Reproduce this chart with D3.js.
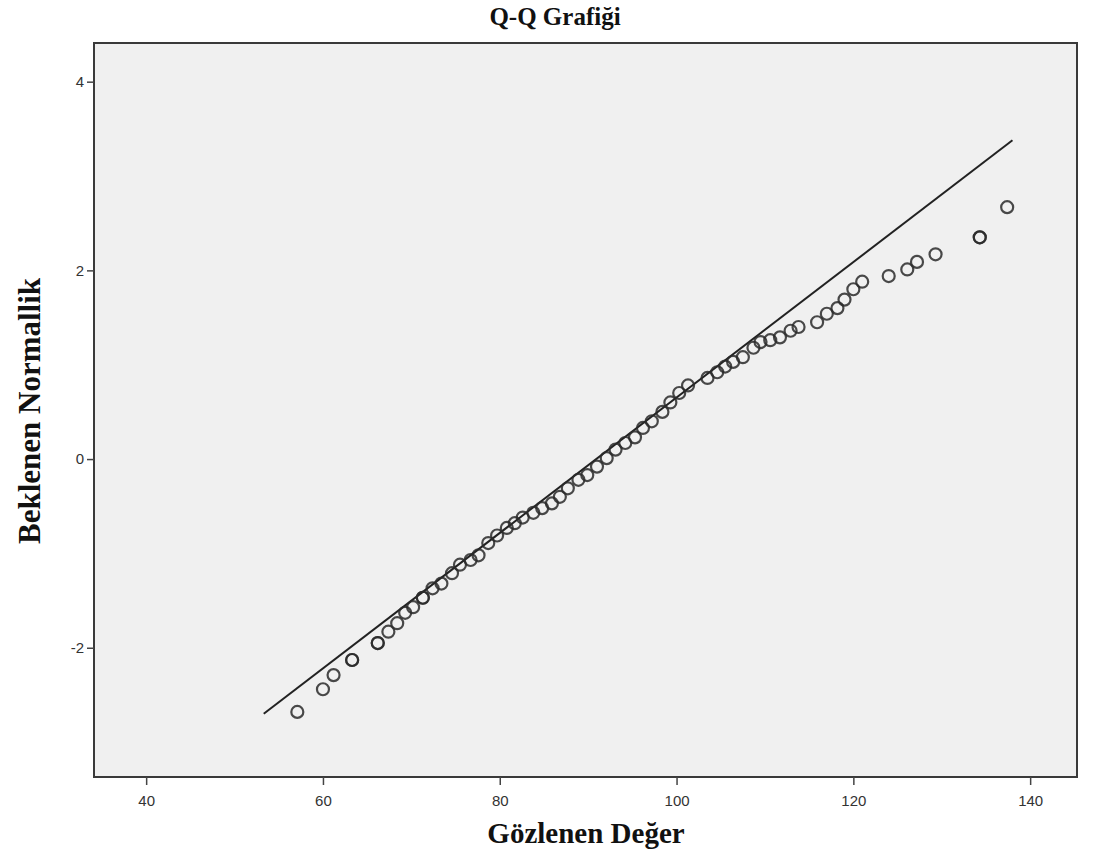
<!DOCTYPE html>
<html>
<head>
<meta charset="utf-8">
<script src="https://cdn.jsdelivr.net/npm/d3@7"></script>
<style>
  body { margin: 0; background: #fff; }
</style>
</head>
<body>
<div id="chart"></div>
<script>
// Q-Q Grafiği - observed values vs expected normal
const observed = [57.1, 60.0, 61.2, 63.3, 63.3, 66.2, 66.2, 67.4, 68.4, 69.3, 70.2, 71.3, 71.3, 72.4, 73.4,
    74.6, 75.5, 76.7, 77.6, 78.7, 79.7, 80.8, 81.7, 82.6, 83.8, 84.8, 85.9, 86.8, 87.7, 88.9, 89.9,
    91.0, 92.1, 93.1, 94.2, 95.3, 96.2, 97.2, 98.4, 99.3, 100.3, 101.3, 103.5, 104.6, 105.5, 106.4,
    107.5, 108.7, 109.5, 110.6, 111.7, 112.9, 113.8, 115.9, 117.0, 118.2, 119.0, 120.0, 121.0,
    124.0, 126.1, 127.2, 129.3, 134.3, 134.3, 137.4];
const expected = [-2.68, -2.44, -2.29, -2.13, -2.13, -1.95, -1.95, -1.83, -1.74, -1.63, -1.57, -1.47, -1.47, -1.37, -1.32,
    -1.21, -1.12, -1.07, -1.02, -0.89, -0.81, -0.73, -0.68, -0.62, -0.57, -0.52, -0.47, -0.40, -0.31, -0.22, -0.17,
    -0.08, 0.01, 0.10, 0.17, 0.23, 0.33, 0.40, 0.50, 0.60, 0.70, 0.78, 0.86, 0.92, 0.98, 1.03,
    1.08, 1.18, 1.24, 1.26, 1.29, 1.36, 1.40, 1.45, 1.54, 1.60, 1.69, 1.80, 1.88,
    1.94, 2.01, 2.09, 2.17, 2.35, 2.35, 2.67];

// reference line endpoints
const lineX = [53.3, 138.0];
const lineY = [-2.70, 3.38];

const xTicks = [40, 60, 80, 100, 120, 140];
const yTicks = [-2, 0, 2, 4];

const width = 1108;
const height = 857;
const plot = { left: 94, top: 43, right: 1077, bottom: 777 };

const svg = d3.select('#chart')
    .append('svg')
    .attr('width', width)
    .attr('height', height);

const x = d3.scaleLinear().domain([34.1, 145.3]).range([plot.left, plot.right]);
const y = d3.scaleLinear().domain([-3.37, 4.41]).range([plot.bottom, plot.top]);

// plot background
svg.append('rect')
    .attr('x', plot.left)
    .attr('y', plot.top)
    .attr('width', plot.right - plot.left)
    .attr('height', plot.bottom - plot.top)
    .attr('fill', '#f0f0f0')
    .attr('stroke', '#3a3a3a')
    .attr('stroke-width', 2);

// axes
const xAxis = svg.append('g')
    .attr('transform', `translate(0, ${plot.bottom})`)
    .call(d3.axisBottom(x).tickValues(xTicks).tickSize(8).tickPadding(10));
const yAxis = svg.append('g')
    .attr('transform', `translate(${plot.left}, 0)`)
    .call(d3.axisLeft(y).tickValues(yTicks).tickSize(7).tickPadding(3).tickFormat(d => String(d)));

[xAxis, yAxis].forEach(ax => {
    ax.select('.domain').remove();
    ax.selectAll('line').attr('stroke', '#444').attr('stroke-width', 1.5);
    ax.selectAll('text')
        .style('font-family', 'Arial, "Liberation Sans", sans-serif')
        .style('font-size', '15px')
        .attr('fill', '#333');
});

// reference line
svg.append('line')
    .attr('x1', x(lineX[0]))
    .attr('y1', y(lineY[0]))
    .attr('x2', x(lineX[1]))
    .attr('y2', y(lineY[1]))
    .attr('stroke', '#222')
    .attr('stroke-width', 2);

// points
svg.append('g')
    .selectAll('circle')
    .data(observed.map((d, i) => ({ obs: d, exp: expected[i] })))
    .enter()
    .append('circle')
    .attr('cx', d => x(d.obs))
    .attr('cy', d => y(d.exp))
    .attr('r', 6)
    .attr('fill', 'none')
    .attr('stroke', '#2a2a2a')
    .attr('stroke-opacity', 0.85)
    .attr('stroke-width', 2.2);

// titles
const serif = '"Liberation Serif", "Times New Roman", serif';
svg.append('text')
    .attr('x', 555)
    .attr('y', 25)
    .attr('text-anchor', 'middle')
    .style('font-family', serif)
    .style('font-weight', 'bold')
    .style('font-size', '25px')
    .attr('fill', '#111')
    .text('Q-Q Grafiği');

svg.append('text')
    .attr('x', 586)
    .attr('y', 843)
    .attr('text-anchor', 'middle')
    .style('font-family', serif)
    .style('font-weight', 'bold')
    .style('font-size', '29px')
    .attr('fill', '#111')
    .text('Gözlenen Değer');

svg.append('text')
    .attr('transform', 'translate(40, 411) rotate(-90)')
    .attr('text-anchor', 'middle')
    .style('font-family', serif)
    .style('font-weight', 'bold')
    .style('font-size', '31px')
    .attr('fill', '#111')
    .text('Beklenen Normallik');
</script>
</body>
</html>
